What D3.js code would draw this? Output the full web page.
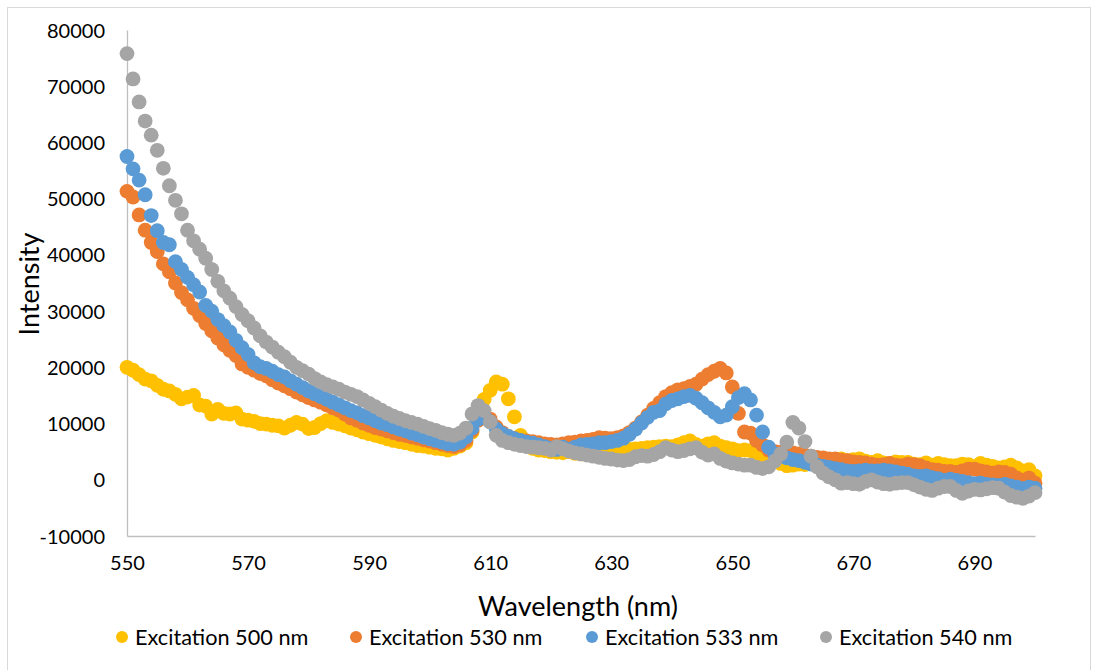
<!DOCTYPE html>
<html>
<head>
<meta charset="utf-8">
<script src="https://cdn.jsdelivr.net/npm/d3@7"></script>
<style>
  body { margin: 0; background: #fff; }
  svg text { font-family: Lato, "Open Sans", sans-serif; fill: #000; }
</style>
</head>
<body>
<svg id="chart" width="1099" height="670"></svg>
<script>
// wavelength grid, 1 nm steps
var wavelengths = d3.range(550, 701);

var ex500 = [20000,19500,18700,17900,17600,16800,16100,15800,15200,14400,
  14700,15000,13300,13100,11700,12500,11800,11700,11900,10800,
  10600,10400,10000,9900,9700,9600,9200,9700,10200,9900,
  9100,9300,10000,10500,10200,9900,9600,9200,8900,8500,
  8200,7900,7600,7300,7000,6800,6600,6300,6100,6000,
  5800,5600,5500,5300,5600,6000,6600,8500,11500,14300,
  15900,17400,17000,14400,11200,7900,6300,5600,5300,5200,
  5000,4900,4800,5000,4700,4600,4800,4500,4700,4600,
  4800,5000,5200,5400,5500,5600,5700,5800,5900,6000,
  5900,6200,6600,6900,6300,6000,6400,6600,6000,5700,
  5500,5200,5300,5200,4800,4300,3800,3400,2900,2500,
  2600,2800,2700,3100,3000,3300,3600,3400,3700,3400,
  3600,3700,3300,3100,3400,3000,2900,3200,3100,3100,
  2800,2700,3000,2600,2900,2700,2500,2500,2800,2700,
  2300,2900,2600,2400,2100,2300,2600,2100,1600,1800,
  700];

var ex530 = [51300,50300,47100,44400,42200,40600,38400,37000,35000,33300,
  32000,30500,29200,27800,26500,25200,24000,23000,22100,20600,
  20000,19500,18900,18500,17800,17200,16700,16200,15600,15100,
  14600,14200,13800,13300,12800,12400,11700,11000,10600,10100,
  9700,9300,9000,8700,8400,8100,7900,7600,7400,7100,
  6900,6600,6300,6100,5900,6200,7000,8800,10600,11500,
  10800,9400,8400,7700,7300,7000,6900,6800,6600,6400,
  6300,6200,6400,6600,6700,6900,7000,7200,7500,7400,
  7300,7500,7800,8400,9200,10300,11500,12700,13700,14800,
  15500,16000,16200,16600,17000,17900,18700,19300,19800,19000,
  16500,11800,8500,8300,7000,6200,5300,5000,4900,4900,
  4800,4600,4400,4200,4000,3900,3700,3700,3500,3400,
  3200,3100,3000,2800,2600,2700,2900,2600,2500,2800,
  2700,2500,2100,1800,1700,1500,1500,1300,1600,1900,
  1900,1600,1400,1200,1400,1300,1000,300,-100,300,
  -600];

var ex533 = [57500,55300,53300,50700,47000,44300,42200,41800,38800,37400,
  36000,34700,33400,31000,30000,28500,27400,26300,24800,23500,
  22300,20800,20100,19800,19300,18700,18300,17600,17000,16400,
  15800,15300,14800,14300,13800,13300,12800,12300,11900,11400,
  11000,10500,10100,9800,9400,9000,8700,8300,8000,7600,
  7300,7000,6700,6400,6300,6700,7600,9200,10800,11500,
  10300,9000,8200,7700,7300,7000,6700,6500,6200,5900,
  5600,5400,5800,5400,5800,6200,6300,6400,6600,6600,
  6800,7000,7400,8100,9000,10100,11100,12000,12300,13500,
  14100,14400,14800,15000,14500,13700,12800,12000,11200,11500,
  13000,14600,15300,14200,11500,8500,5800,4600,4200,3900,
  3600,3400,3100,2800,2600,2400,2200,2000,1800,1600,
  1500,1600,1700,1600,1600,1700,1600,1400,1200,1000,
  700,600,700,400,200,-100,100,-100,-300,-500,
  -700,-600,-800,-900,-1000,-800,-1100,-1300,-1600,-1300,
  -1500];

var ex540 = [75800,71300,67200,63800,61300,58600,55400,52300,49700,47300,
  44400,42500,41000,39400,37400,35300,33600,32300,30800,29400,
  28300,27000,25600,24500,23600,22700,21900,20900,20000,19400,
  18800,18000,17400,16900,16500,16100,15600,15200,14800,14200,
  13600,13000,12400,11800,11300,10900,10500,10200,9900,9500,
  9100,8800,8400,8100,7900,8300,9200,11700,13200,12300,
  10300,7900,7000,6600,6300,6100,5900,5800,5700,5600,
  5300,5900,5500,5100,4800,4600,4400,4200,4000,3800,
  3700,3500,3400,3600,4100,4300,4200,4500,5000,5700,
  5300,5000,5200,5500,5700,4900,4400,4600,3800,3300,
  3000,2800,2600,2600,2200,2000,2300,3300,4600,6700,
  10200,9200,6800,4200,2300,1200,500,0,-600,-500,
  -700,-800,-300,0,-400,-700,-800,-600,-500,-500,
  -900,-1300,-1700,-1900,-1500,-1200,-1200,-1900,-2400,-2000,
  -1700,-1800,-1600,-1400,-1500,-2200,-2800,-3100,-3300,-2900,
  -2300];

var seriesNames = ["Excitation 500 nm", "Excitation 530 nm", "Excitation 533 nm", "Excitation 540 nm"];
var seriesColors = ["#FFC000", "#ED7D31", "#5B9BD5", "#A5A5A5"];
var seriesValues = [ex500, ex530, ex533, ex540];
var yTicks = [-10000, 0, 10000, 20000, 30000, 40000, 50000, 60000, 70000, 80000];
var xTicks = [550, 570, 590, 610, 630, 650, 670, 690];

var svg = d3.select("#chart");

// chart area border
svg.append("rect")
    .attr("x", 7.5).attr("y", 7.5)
    .attr("width", 1083).attr("height", 680)
    .style("fill", "none")
    .style("stroke", "#d9d9d9");

var xScale = d3.scaleLinear().domain([550, 700]).range([127, 1035]);
var yScale = d3.scaleLinear().domain([-10000, 80000]).range([536, 30]);

// plain hyphen for negatives, like the original
var fmt = function(d) { return String(d); };

var yAxis = d3.axisLeft(yScale).tickValues(yTicks).tickSize(0).tickPadding(22)
    .tickFormat(fmt);
var gy = svg.append("g").attr("transform", "translate(127,0)").call(yAxis);
gy.select(".domain").style("stroke", "#bfbfbf").style("stroke-width", 1.3);
gy.selectAll("text").style("font-size", "20px").attr("dy", "0.35em");

var xAxis = d3.axisBottom(xScale).tickValues(xTicks).tickSize(0).tickPadding(20)
    .tickFormat(fmt);
var gx = svg.append("g").attr("transform", "translate(0,536)").call(xAxis);
gx.select(".domain").style("stroke", "#bfbfbf").style("stroke-width", 1.3);
gx.selectAll("text").style("font-size", "20px");

// series, later ones drawn on top
seriesValues.forEach(function(vals, s) {
  svg.append("g").selectAll("circle")
      .data(vals)
      .enter()
      .append("circle")
      .attr("cx", function(d, i) { return xScale(wavelengths[i]); })
      .attr("cy", function(d) { return yScale(d); })
      .attr("r", 7.4)
      .style("fill", seriesColors[s]);
});

svg.append("text")
    .text("Intensity")
    .attr("transform", "translate(39,284) rotate(-90)")
    .style("text-anchor", "middle")
    .style("font-size", "27px");

svg.append("text")
    .text("Wavelength (nm)")
    .attr("x", 578).attr("y", 616)
    .style("text-anchor", "middle")
    .style("font-size", "27px");

var legendX = [122, 356, 592, 826];
var legend = svg.selectAll("legendItem")
    .data(seriesNames)
    .enter()
    .append("g")
    .attr("transform", function(d, i) { return "translate(" + legendX[i] + ",637)"; });
legend.append("circle")
    .attr("r", 6)
    .style("fill", function(d, i) { return seriesColors[i]; });
legend.append("text")
    .attr("x", 13).attr("y", 0).attr("dy", "0.35em")
    .text(function(d) { return d; })
    .style("font-size", "21.7px");
</script>
</body>
</html>
